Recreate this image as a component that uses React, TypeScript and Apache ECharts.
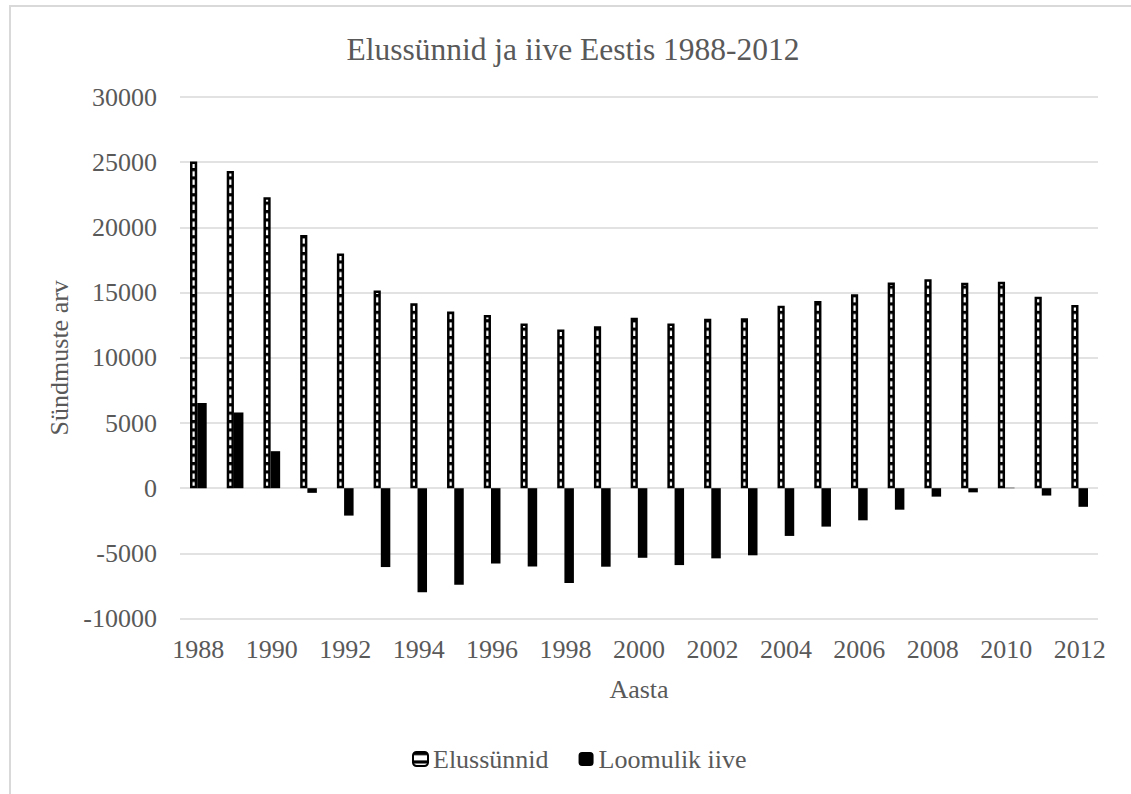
import React, { useEffect, useRef } from "react";
import * as echarts from "echarts";

// Years on the category axis
const years: string[] = [
  "1988", "1989", "1990", "1991", "1992", "1993", "1994", "1995", "1996",
  "1997", "1998", "1999", "2000", "2001", "2002", "2003", "2004", "2005",
  "2006", "2007", "2008", "2009", "2010", "2011", "2012",
];

// Live births per year
const elussunnid: number[] = [
  25060, 24317, 22308, 19413, 18006, 15170, 14178, 13560, 13291, 12626,
  12167, 12425, 13067, 12632, 13001, 13036, 13992, 14350, 14877, 15775,
  16028, 15763, 15825, 14679, 14056,
];

// Natural increase per year
const loomulikIive: number[] = [
  6543, 5807, 2838, -356, -2101, -6047, -7985, -7403, -5776, -6005,
  -7279, -6020, -5336, -5896, -5380, -5146, -3660, -2946, -2463, -1648,
  -647, -318, 35, -564, -1427,
];

const seriesNames: string[] = ["Elussünnid", "Loomulik iive"];
const chartTitle = "Elussünnid ja iive Eestis 1988-2012";
const xAxisName = "Aasta";
const yAxisName = "Sündmuste arv";

const FONT = "'Liberation Serif', 'Times New Roman', serif";
const TEXT_GRAY = "#595959";
const GRID_GRAY = "#d9d9d9";

// Horizontal-stripe tile used to fill the births bars
const stripeSvg =
  "<svg xmlns='http://www.w3.org/2000/svg' width='4' height='8.4'>" +
  "<rect x='0' y='0' width='4' height='8.4' fill='#ffffff'/>" +
  "<rect x='0' y='0' width='4' height='3.2' fill='#000000'/>" +
  "</svg>";
const stripeUrl = "data:image/svg+xml;charset=utf-8," + encodeURIComponent(stripeSvg);

export default function App() {
  const ref = useRef<HTMLDivElement>(null);

  useEffect(() => {
    if (!ref.current) return;
    const chart = echarts.init(ref.current, undefined, { renderer: "svg" });

    const option: any = {
      animation: false,
      backgroundColor: "#ffffff",
      textStyle: { fontFamily: FONT },
      title: {
        text: chartTitle,
        left: 568,
        top: 28,
        textAlign: "center",
        textStyle: {
          fontFamily: FONT,
          fontSize: 31.5,
          fontWeight: "normal",
          color: TEXT_GRAY,
        },
      },
      legend: {
        data: seriesNames,
        left: 407,
        top: 741,
        itemWidth: 15,
        itemHeight: 14,
        itemGap: 30,
        textStyle: { fontFamily: FONT, fontSize: 26, color: TEXT_GRAY },
      },
      grid: {
        left: 180,
        right: 33,
        top: 97,
        bottom: 175.4,
        containLabel: false,
      },
      xAxis: {
        type: "category",
        data: years,
        boundaryGap: true,
        name: xAxisName,
        nameLocation: "middle",
        nameGap: 58,
        nameTextStyle: { fontFamily: FONT, fontSize: 26, color: TEXT_GRAY },
        axisLine: { show: false, onZero: false },
        axisTick: { show: false },
        axisLabel: {
          interval: 1,
          margin: 18,
          fontFamily: FONT,
          fontSize: 26,
          color: TEXT_GRAY,
        },
      },
      yAxis: {
        type: "value",
        min: -10000,
        max: 30000,
        interval: 5000,
        name: yAxisName,
        nameLocation: "middle",
        nameGap: 104,
        nameRotate: 90,
        nameTextStyle: { fontFamily: FONT, fontSize: 26, color: TEXT_GRAY },
        axisLine: { show: false },
        axisTick: { show: false },
        axisLabel: {
          margin: 23,
          fontFamily: FONT,
          fontSize: 26,
          color: TEXT_GRAY,
          formatter: (v: number) => String(v),
        },
        splitLine: { lineStyle: { color: GRID_GRAY, width: 1.5 } },
      },
      series: [
        {
          name: seriesNames[0],
          type: "bar",
          data: elussunnid,
          barWidth: 7.2,
          barGap: "0%",
          itemStyle: {
            color: {
              image: stripeUrl,
              repeat: "repeat",
              imageWidth: 4,
              imageHeight: 8.4,
            },
            borderColor: "#000000",
            borderWidth: 2.5,
          },
        },
        {
          name: seriesNames[1],
          type: "bar",
          data: loomulikIive,
          barWidth: 9.5,
          barGap: "0%",
          itemStyle: { color: "#000000" },
        },
      ],
      graphic: [
        {
          type: "polyline",
          silent: true,
          shape: { points: [[10, 900], [10, 6], [1300, 6]] },
          style: { fill: "none", stroke: GRID_GRAY, lineWidth: 2 },
          z: -1,
        },
      ],
    };

    chart.setOption(option);
    return () => chart.dispose();
  }, []);

  return (
    <div
      ref={ref}
      style={{ position: "fixed", left: 0, top: 0, width: 1131, height: 794 }}
    />
  );
}
